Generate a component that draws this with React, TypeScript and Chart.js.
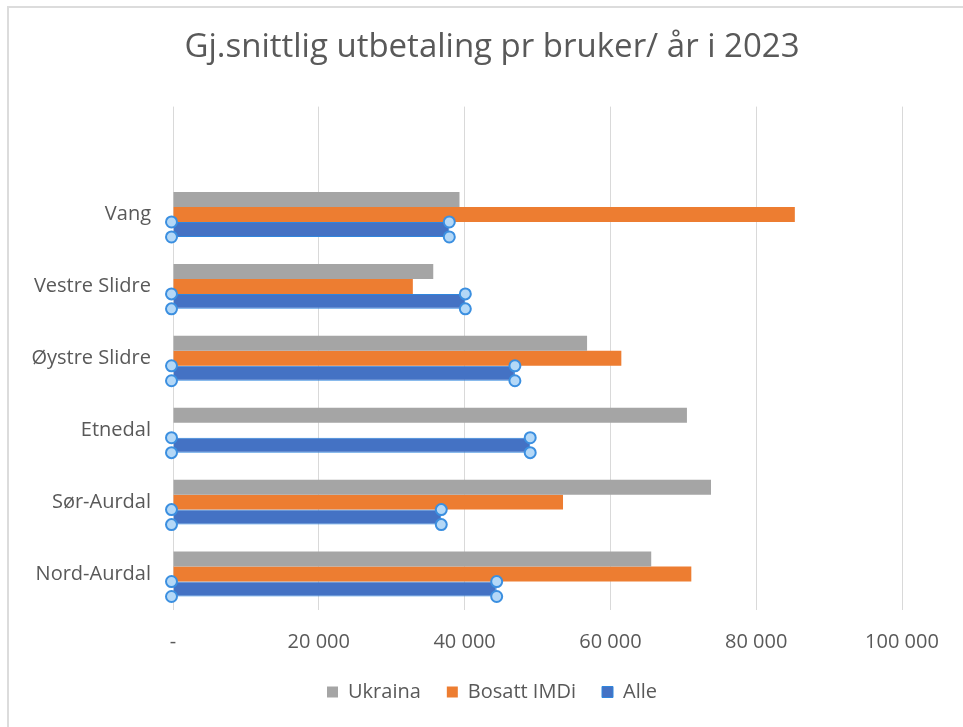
import React, { useEffect, useRef } from "react";
import { Chart, registerables } from "chart.js";

Chart.register(...registerables);

const categories = ["", "Vang", "Vestre Slidre", "Øystre Slidre", "Etnedal", "Sør-Aurdal", "Nord-Aurdal"];
const ukraina = [null, 39300, 35700, 56800, 70500, 73800, 65600];
const bosattImdi = [null, 85300, 32900, 61500, null, 53500, 71100];
const alle = [null, 37900, 40100, 46900, 49000, 36800, 44400];
const xTicks = [0, 20000, 40000, 60000, 80000, 100000];
const titleText = "Gj.snittlig utbetaling pr bruker/ år i 2023";

const FONT = "'Open Sans', 'DejaVu Sans', sans-serif";
const TEXT = "#595959";

const handlesPlugin = {
  id: "selectionHandles",
  afterDatasetsDraw(chart: any) {
    const meta = chart.getDatasetMeta(2);
    const ctx = chart.ctx;
    ctx.save();
    meta.data.forEach((el: any, i: number) => {
      if (alle[i] == null) return;
      const p = el.getProps(["x", "y", "base", "height"], true);
      const top = p.y - p.height / 2;
      const bot = p.y + p.height / 2;
      const pts = [
        [p.base - 2, top],
        [p.base - 2, bot],
        [p.x, top],
        [p.x, bot],
      ];
      pts.forEach(([cx, cy]) => {
        ctx.beginPath();
        ctx.arc(cx, cy, 5.5, 0, Math.PI * 2);
        ctx.fillStyle = "#b4d8f7";
        ctx.fill();
        ctx.lineWidth = 2;
        ctx.strokeStyle = "#3b8fe0";
        ctx.stroke();
      });
    });
    ctx.restore();
  },
};

export default function App() {
  const ref = useRef<HTMLCanvasElement | null>(null);

  useEffect(() => {
    if (!ref.current) return;
    Chart.defaults.font.family = FONT;
    const chart = new Chart(ref.current, {
      type: "bar",
      data: {
        labels: categories,
        datasets: [
          { label: "Ukraina", data: ukraina, backgroundColor: "#A5A5A5", xAxisID: "x", yAxisID: "y" },
          { label: "Bosatt IMDi", data: bosattImdi, backgroundColor: "#ED7D31", xAxisID: "x", yAxisID: "y" },
          {
            label: "Alle",
            data: alle,
            backgroundColor: "#4472C4",
            borderColor: "#2f86dd",
            borderWidth: 1,
            xAxisID: "x",
            yAxisID: "y",
          },
        ],
      },
      options: {
        indexAxis: "y",
        animation: false,
        responsive: false,
        maintainAspectRatio: false,
        datasets: {
          bar: { categoryPercentage: 0.625, barPercentage: 1.0 },
        },
        layout: { padding: { left: 21, right: 0, top: 2, bottom: 15 } },
        scales: {
          x: {
            min: 0,
            max: 100000,
            afterBuildTicks: (s: any) => {
              s.ticks = xTicks.map((v) => ({ value: v }));
            },
            afterFit: (s: any) => {
              s.height = 46;
            },
            grid: { color: "#d9d9d9", lineWidth: 1, drawTicks: false },
            border: { display: false },
            ticks: {
              padding: 20,
              color: TEXT,
              font: { size: 20, family: FONT },
              maxRotation: 0,
              callback: (v: any) =>
                Number(v) === 0 ? "-" : String(v).replace(/\B(?=(\d{3})+(?!\d))/g, " "),
            },
          },
          y: {
            position: "left",
            afterFit: (s: any) => {
              s.width = 152;
            },
            grid: { display: false, drawTicks: false },
            border: { display: false },
            ticks: {
              padding: 22,
              color: TEXT,
              font: { size: 20, family: FONT },
            },
          },
          yRightSpace: {
            type: "category",
            axis: "y",
            position: "right",
            labels: [""],
            afterFit: (s: any) => {
              s.width = 61;
            },
            grid: { display: false, drawTicks: false },
            border: { display: false },
            ticks: { display: false },
          },
        },
        plugins: {
          title: {
            display: true,
            text: titleText,
            color: TEXT,
            font: { size: 33, family: FONT, weight: "normal" },
            padding: { top: 26, bottom: 39 },
          },
          legend: {
            position: "bottom",
            labels: {
              color: TEXT,
              font: { size: 20, family: FONT },
              boxWidth: 11,
              boxHeight: 11,
              padding: 26,
            },
          },
          tooltip: { enabled: false },
        },
      },
      plugins: [handlesPlugin],
    } as any);
    return () => chart.destroy();
  }, []);

  return (
    <div
      style={{
        position: "fixed",
        left: 0,
        top: 0,
        width: 963,
        height: 727,
        background: "#ffffff",
        overflow: "hidden",
      }}
    >
      <div
        style={{
          position: "absolute",
          left: 7,
          top: 6,
          width: 1000,
          height: 1000,
          borderTop: "2px solid #dcdcdc",
          borderLeft: "2px solid #dcdcdc",
        }}
      />
      <canvas
        ref={ref}
        width={963}
        height={727}
        style={{ position: "absolute", left: 0, top: 0, width: 963, height: 727 }}
      />
    </div>
  );
}
